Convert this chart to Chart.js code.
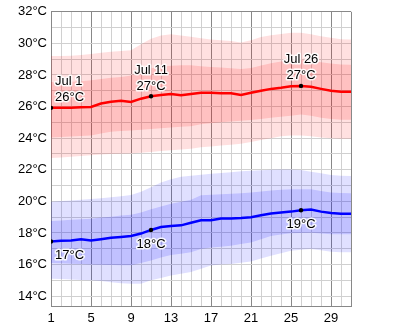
<!DOCTYPE html>
<html lang="en">
<head>
    <meta charset="UTF-8">
    <title>July temperatures</title>
    <script src="https://cdn.jsdelivr.net/npm/chart.js"></script>
    <style>
        body { margin: 0; padding: 0; background: #fff; }
        #wrap { width: 400px; height: 329px; }
    </style>
</head>
<body>
<div id="wrap"><canvas id="tempChart" width="400" height="329"></canvas></div>
<script>
// days of July
const days = [1,2,3,4,5,6,7,8,9,10,11,12,13,14,15,16,17,18,19,20,21,22,23,24,25,26,27,28,29,30,31];

// daily high (red) - mean, 25-75% band, 10-90% band
const highMean = [25.92,25.92,25.93,25.96,25.98,26.19,26.3,26.37,26.29,26.5,26.65,26.73,26.79,26.71,26.8,26.87,26.87,26.84,26.84,26.73,26.87,27.0,27.12,27.19,27.29,27.31,27.25,27.12,27.0,26.94,26.94];
const highInnerHi = [27.55,27.55,27.57,27.6,27.67,27.75,27.82,27.88,27.96,28.2,28.42,28.52,28.58,28.62,28.62,28.55,28.5,28.47,28.43,28.38,28.45,28.6,28.75,28.85,28.95,28.97,28.9,28.8,28.72,28.66,28.65];
const highInnerLo = [24.05,24.07,24.1,24.13,24.17,24.3,24.4,24.45,24.48,24.53,24.58,24.63,24.68,24.72,24.76,24.88,24.95,25.0,25.05,25.1,25.15,25.22,25.3,25.36,25.42,25.5,25.42,25.3,25.22,25.17,25.17];
const highOuterHi = [29.2,29.2,29.22,29.27,29.33,29.4,29.47,29.52,29.56,29.95,30.3,30.5,30.58,30.5,30.42,30.32,30.25,30.2,30.15,30.05,30.2,30.4,30.52,30.6,30.67,30.67,30.58,30.46,30.35,30.27,30.25];
const highOuterLo = [22.75,22.78,22.82,22.87,22.92,22.97,23.0,23.02,23.03,23.08,23.12,23.18,23.23,23.28,23.33,23.42,23.48,23.53,23.58,23.65,23.75,23.88,24.0,24.12,24.17,24.17,24.12,24.05,24.0,23.97,23.96];

// daily low (blue)
const lowMean = [17.46,17.5,17.52,17.6,17.52,17.6,17.69,17.75,17.81,17.96,18.19,18.37,18.44,18.48,18.64,18.8,18.81,18.92,18.92,18.94,19.0,19.12,19.23,19.29,19.35,19.44,19.48,19.35,19.27,19.21,19.21];
const lowInnerHi = [18.75,18.79,18.83,18.87,18.9,18.97,19.03,19.1,19.15,19.3,19.5,19.68,19.85,19.97,20.1,20.38,20.42,20.45,20.48,20.52,20.56,20.62,20.69,20.73,20.77,20.77,20.77,20.65,20.56,20.53,20.52];
const lowInnerLo = [16.1,16.08,16.05,16.03,16.0,15.98,15.97,15.96,15.95,16.1,16.25,16.45,16.6,16.68,16.77,16.98,17.08,17.13,17.19,17.3,17.4,17.6,17.81,17.9,17.98,18.0,18.02,17.97,17.92,17.92,17.92];
const lowOuterHi = [19.98,20.02,20.06,20.1,20.15,20.2,20.26,20.33,20.4,20.6,20.9,21.2,21.4,21.55,21.62,21.68,21.75,21.8,21.85,21.9,21.94,21.97,22.0,22.02,22.02,21.98,21.88,21.78,21.67,21.62,21.6];
const lowOuterLo = [15.1,15.08,15.05,15.02,15.0,14.95,14.88,14.82,14.79,14.79,15.0,15.15,15.31,15.42,15.52,15.73,15.94,16.0,16.04,16.12,16.19,16.38,16.56,16.72,16.87,16.93,16.98,16.9,16.81,16.78,16.77];

// labelled days
const markDays = [1, 11, 26];
const markNames = ['Jul 1', 'Jul 11', 'Jul 26'];
const highLabels = ['26°C', '27°C', '27°C'];
const lowLabels = ['17°C', '18°C', '19°C'];

const FONT = '13px "Liberation Sans", Arial, sans-serif';

function pts(arr) {
    return days.map((d, i) => ({ x: d, y: arr[i] }));
}
function markRadius(ctx) {
    return markDays.includes(days[ctx.dataIndex]) ? 2.2 : 0;
}

function band(data, color, fillTo) {
    return {
        data: pts(data),
        borderWidth: 0,
        pointRadius: 0,
        backgroundColor: color,
        fill: fillTo,
        tension: 0
    };
}

// text with white halo next to marked points
const labelPlugin = {
    id: 'markLabels',
    afterDatasetsDraw(chart) {
        const c = chart.ctx;
        const xs = chart.scales.x, ys = chart.scales.y;
        c.save();
        c.font = FONT;
        c.lineJoin = 'round';
        const draw = (txt, x, y, align) => {
            c.textAlign = align;
            c.textBaseline = 'alphabetic';
            c.strokeStyle = 'rgba(255,255,255,0.9)';
            c.lineWidth = 3;
            c.strokeText(txt, x, y);
            c.fillStyle = '#000';
            c.fillText(txt, x, y);
        };
        markDays.forEach((d, k) => {
            const i = days.indexOf(d);
            const px = xs.getPixelForValue(d);
            const hy = ys.getPixelForValue(highMean[i]);
            const ly = ys.getPixelForValue(lowMean[i]);
            const align = k === 0 ? 'left' : 'center';
            const tx = k === 0 ? px + 4 : px;
            draw(markNames[k], tx, hy - 22.5, align);
            draw(highLabels[k], tx, hy - 6.5, align);
            draw(lowLabels[k], tx, ly + 18, align);
        });
        c.restore();
    }
};

const ctx = document.getElementById('tempChart').getContext('2d');
const chart = new Chart(ctx, {
    type: 'line',
    data: {
        datasets: [
            { data: pts(highMean), borderColor: '#ff0000', borderWidth: 2.5, tension: 0, fill: false,
              pointRadius: markRadius, pointBackgroundColor: '#000', pointBorderWidth: 0 },
            { data: pts(lowMean), borderColor: '#0000ff', borderWidth: 2.5, tension: 0, fill: false,
              pointRadius: markRadius, pointBackgroundColor: '#000', pointBorderWidth: 0 },
            band(highInnerHi, 'rgba(255,0,0,0.14)', 3),
            band(highInnerLo, 'transparent', false),
            band(highOuterHi, 'rgba(255,0,0,0.12)', 5),
            band(highOuterLo, 'transparent', false),
            band(lowInnerHi, 'rgba(0,0,255,0.14)', 7),
            band(lowInnerLo, 'transparent', false),
            band(lowOuterHi, 'rgba(0,0,255,0.12)', 9),
            band(lowOuterLo, 'transparent', false)
        ]
    },
    options: {
        responsive: false,
        animation: false,
        layout: { padding: { top: 8, right: 49, left: 0, bottom: 0 } },
        plugins: { legend: { display: false }, tooltip: { enabled: false } },
        scales: {
            x: {
                type: 'linear',
                min: 1,
                max: 31,
                afterBuildTicks: s => { s.ticks = days.map(d => ({ value: d })); },
                afterFit: s => { s.height = 23; },
                ticks: {
                    autoSkip: false,
                    maxRotation: 0,
                    padding: 5,
                    color: '#000',
                    font: { family: '"Liberation Sans", Arial, sans-serif', size: 13 },
                    callback: v => ((v - 1) % 4 === 0 ? String(v) : '')
                },
                grid: {
                    drawTicks: false,
                    color: c => ((c.tick.value - 1) % 4 === 0 && c.tick.value > 1) || c.tick.value === 31 ? '#888' : '#d0d0d0'
                },
                border: { color: '#888' }
            },
            y: {
                min: 13.375,
                max: 32,
                afterBuildTicks: s => {
                    const t = [];
                    for (let v = 14; v <= 32; v++) t.push({ value: v });
                    s.ticks = t;
                },
                afterFit: s => { s.width = 51; },
                ticks: {
                    autoSkip: false,
                    padding: 4,
                    color: '#000',
                    font: { family: '"Liberation Sans", Arial, sans-serif', size: 13 },
                    callback: v => (v % 2 === 0 ? v + '°C' : '')
                },
                grid: {
                    drawTicks: false,
                    color: c => (c.tick.value === 32 ? '#888' : '#d0d0d0')
                },
                border: { color: '#888' }
            }
        }
    },
    plugins: [labelPlugin]
});
</script>
</body>
</html>
